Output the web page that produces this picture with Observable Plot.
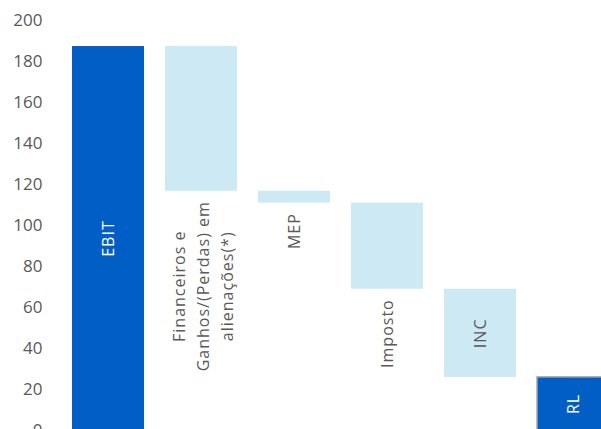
<!DOCTYPE html>
<html>
<head>
<meta charset="utf-8">
<script src="https://cdn.jsdelivr.net/npm/d3@7"></script>
<script src="https://cdn.jsdelivr.net/npm/@observablehq/plot@0.6"></script>
<style>
  html, body { margin: 0; padding: 0; background: #fff; overflow: hidden; }
  g[aria-label="text"] text { letter-spacing: 1px; }
</style>
</head>
<body>
<div id="chart"></div>
<script>
// Data
const categories = ["EBIT", "Financeiros e\nGanhos/(Perdas) em\nalienações(*)", "MEP", "Imposto", "INC", "RL"];
const kinds = ["total", "delta", "delta", "delta", "delta", "total"];
const values = [187.3, -70.6, -5.8, -42, -43, 25.9];
const yTicks = [0, 20, 40, 60, 80, 100, 120, 140, 160, 180, 200];

// Build waterfall rows
let running = 0;
const rows = categories.map((c, i) => {
  let y1, y2;
  if (kinds[i] === "total") { y1 = 0; y2 = values[i]; running = values[i]; }
  else { y1 = running; y2 = running + values[i]; running = y2; }
  return {cat: c, kind: kinds[i], y1, y2, lo: Math.min(y1, y2), hi: Math.max(y1, y2), mid: (y1 + y2) / 2};
});

const inside = new Set(["EBIT", "INC", "RL"]);
const darkBlue = "#005EC4";
const lightBlue = "#CDEAF4";
const textGray = "#595959";

const chart = Plot.plot({
  width: 601,
  height: 429,
  marginLeft: 45,
  marginTop: 0,
  marginBottom: 0,
  marginRight: 0,
  style: {fontFamily: "Open Sans", fontSize: "17px", color: textGray, background: "#fff"},
  x: {type: "band", domain: categories, range: [51, 630], padding: 0.2258, axis: null},
  y: {domain: [0, 200], range: [430, 20], ticks: yTicks, tickSize: 0, tickPadding: 3, label: null, tickFormat: d => String(d)},
  marks: [
    Plot.barY(rows.filter(d => d.kind === "delta"), {x: "cat", y1: "lo", y2: "hi", fill: lightBlue}),
    Plot.barY(rows.filter(d => d.kind === "total" && d.cat !== "RL"), {x: "cat", y1: "lo", y2: "hi", fill: darkBlue}),
    Plot.barY(rows.filter(d => d.cat === "RL"), {x: "cat", y1: "lo", y2: "hi", fill: darkBlue, stroke: "#A6A6A6", strokeWidth: 1.5}),
    // labels inside bars
    Plot.text(rows.filter(d => inside.has(d.cat)), {
      x: "cat", y: "mid", text: "cat", rotate: -90, textAnchor: "middle",
      fill: d => d.kind === "total" ? "#fff" : textGray,
      fontSize: 16, fontWeight: d => d.kind === "total" ? 600 : 400
    }),
    // labels below bars (single line)
    Plot.text(rows.filter(d => !inside.has(d.cat) && !d.cat.includes("\n")), {
      x: "cat", y: "lo", text: "cat", rotate: -90, textAnchor: "end", dy: 10,
      fill: textGray, fontSize: 16
    }),
    // multi-line label below bar
    Plot.text(rows.filter(d => !inside.has(d.cat) && d.cat.includes("\n")), {
      x: "cat", y: "lo", text: "cat", rotate: -90, textAnchor: "middle", lineAnchor: "middle",
      lineHeight: 1.5, dy: 95, fill: textGray, fontSize: 16
    })
  ]
});
document.getElementById("chart").appendChild(chart);
</script>
</body>
</html>
